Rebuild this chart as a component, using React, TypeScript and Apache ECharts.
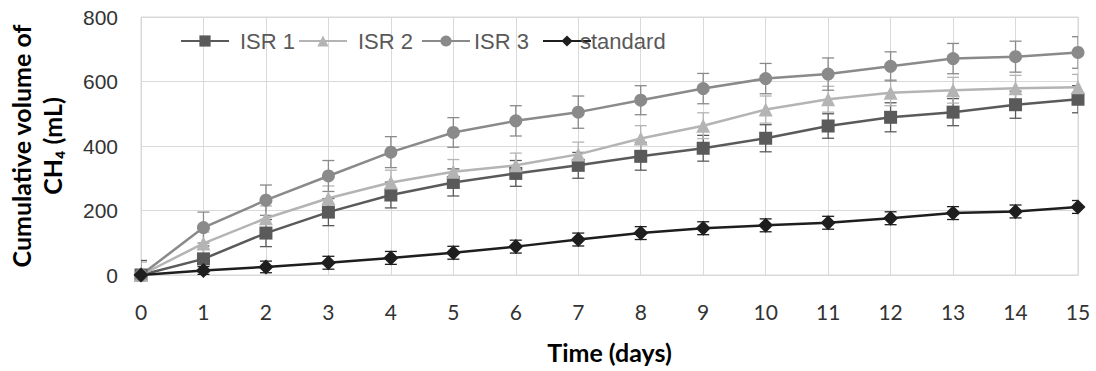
import React, { useEffect, useRef } from "react";
import * as echarts from "echarts";

const days = [0, 1, 2, 3, 4, 5, 6, 7, 8, 9, 10, 11, 12, 13, 14, 15];
const isr1 = [0, 50, 130, 195, 248, 287, 315, 340, 368, 393, 424, 462, 489, 505, 528, 545];
const isr2 = [0, 98, 176, 238, 287, 320, 340, 374, 423, 463, 513, 545, 565, 573, 579, 582];
const isr3 = [0, 147, 232, 307, 381, 442, 478, 505, 542, 578, 609, 623, 647, 671, 677, 690];
const standard = [0, 14, 25, 38, 53, 69, 88, 110, 130, 145, 154, 162, 176, 192, 197, 211];
const isr1Err = [45, 40, 42, 42, 40, 42, 40, 40, 43, 40, 42, 38, 45, 42, 42, 42];
const isr2Err = [40, 35, 38, 38, 38, 38, 38, 38, 40, 40, 42, 40, 40, 40, 40, 40];
const isr3Err = [0, 48, 47, 48, 48, 46, 47, 50, 45, 47, 47, 50, 45, 47, 48, 49];
const standardErr = [0, 12, 18, 20, 20, 20, 20, 20, 20, 20, 20, 20, 20, 20, 20, 20];
const yTicks = [0, 200, 400, 600, 800];

const seriesDefs = [
  { name: "ISR 1", values: isr1, errs: isr1Err, color: "#5a5a5a", symbol: "rect", size: 13, legendLeft: 180, textPad: 6 },
  { name: "ISR 2", values: isr2, errs: isr2Err, color: "#b4b4b4", symbol: "triangle", size: 14, legendLeft: 298, textPad: 6 },
  { name: "ISR 3", values: isr3, errs: isr3Err, color: "#8a8a8a", symbol: "circle", size: 13, legendLeft: 421, textPad: -1 },
  { name: "standard", values: standard, errs: standardErr, color: "#1e1e1e", symbol: "diamond", size: 15, legendLeft: 542, textPad: -16 },
];

export default function App() {
  const ref = useRef<HTMLDivElement>(null);
  useEffect(() => {
    if (!ref.current) return;
    const chart = echarts.init(ref.current, null, { renderer: "svg" });
    const series: any[] = [];
    seriesDefs.forEach((s) => {
      series.push({
        type: "custom",
        name: s.name + " err",
        clip: true,
        z: 1,
        silent: true,
        data: days.map((d, i) => [d, s.values[i], s.errs[i]]),
        encode: { x: 0, y: 1 },
        renderItem: (params: any, api: any) => {
          const x = api.value(0);
          const y = api.value(1);
          const e = api.value(2);
          if (!e) return null;
          const top = api.coord([x, y + e]);
          const bot = api.coord([x, y - e]);
          const hw = 6;
          const st = { stroke: s.color, lineWidth: 1.3 };
          return {
            type: "group",
            children: [
              { type: "line", shape: { x1: top[0], y1: top[1], x2: bot[0], y2: bot[1] }, style: st },
              { type: "line", shape: { x1: top[0] - hw, y1: top[1], x2: top[0] + hw, y2: top[1] }, style: st },
              { type: "line", shape: { x1: bot[0] - hw, y1: bot[1], x2: bot[0] + hw, y2: bot[1] }, style: st },
            ],
          };
        },
      });
    });
    seriesDefs.forEach((s) => {
      series.push({
        type: "line",
        name: s.name,
        z: 3,
        data: days.map((d, i) => [d, s.values[i]]),
        symbol: s.symbol,
        symbolSize: s.size,
        showAllSymbol: true,
        lineStyle: { color: s.color, width: 2.5 },
        itemStyle: { color: s.color, borderWidth: 0 },
        emphasis: { disabled: true },
      });
    });
    const legends = seriesDefs.map((s) => ({
      data: [s.name],
      left: s.legendLeft,
      top: 30,
      itemWidth: 48,
      itemHeight: 14,
      itemGap: 0,
      padding: 0,
      textStyle: {
        fontFamily: "Liberation Sans",
        fontSize: 22,
        color: "#595959",
        padding: [0, 0, 0, s.textPad],
      },
    }));
    chart.setOption({
      animation: false,
      backgroundColor: "#ffffff",
      grid: {
        left: 141,
        right: 18,
        top: 17,
        bottom: 96,
        show: true,
        borderColor: "#d9d9d9",
        borderWidth: 1,
        containLabel: false,
        outerBoundsMode: "none",
      },
      legend: legends,
      xAxis: {
        type: "value",
        min: 0,
        max: 15,
        interval: 1,
        name: "Time (days)",
        nameLocation: "middle",
        nameGap: 64,
        nameTextStyle: { fontFamily: "Lato", fontWeight: "bold", fontSize: 25, color: "#000" },
        axisLine: { show: true, lineStyle: { color: "#d9d9d9" } },
        axisTick: { show: false },
        splitLine: { show: true, lineStyle: { color: "#d9d9d9", width: 1 } },
        axisLabel: { fontFamily: "Lato", fontSize: 21, color: "#333", margin: 26 },
      },
      yAxis: {
        type: "value",
        min: yTicks[0],
        max: yTicks[yTicks.length - 1],
        interval: 200,
        name: "Cumulative volume of\nCH\u2084 (mL)",
        nameLocation: "middle",
        nameRotate: 90,
        nameGap: 74,
        nameTextStyle: { fontFamily: "Lato", fontWeight: "bold", fontSize: 25, color: "#000", lineHeight: 31 },
        axisLine: { show: true, lineStyle: { color: "#d9d9d9" } },
        axisTick: { show: false },
        splitLine: { show: true, lineStyle: { color: "#d9d9d9", width: 1 } },
        axisLabel: { fontFamily: "Liberation Sans", fontSize: 21, color: "#333", margin: 23 },
      },
      series,
    });
    return () => chart.dispose();
  }, []);
  return (
    <div
      ref={ref}
      style={{ position: "fixed", left: 0, top: 0, width: 1096, height: 371, background: "#fff" }}
    />
  );
}
